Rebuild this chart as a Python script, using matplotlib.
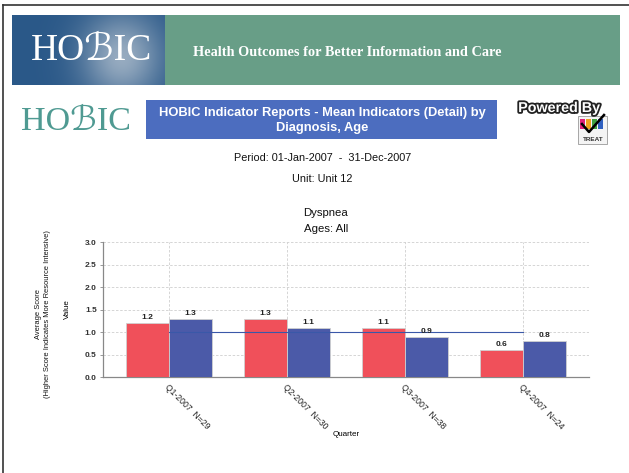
import numpy as np
import matplotlib
matplotlib.use("Agg")
import matplotlib.pyplot as plt
from matplotlib.patches import Rectangle
import matplotlib.patheffects as pe

# ---- data ----
quarters = ["Q1-2007", "Q2-2007", "Q3-2007", "Q4-2007"]
counts = [29, 30, 38, 24]
series_red = [1.2, 1.3, 1.1, 0.6]
series_blue = [1.3, 1.1, 0.9, 0.8]
reference_level = 1.0
y_ticks = [0.0, 0.5, 1.0, 1.5, 2.0, 2.5, 3.0]

RED = "#f0505a"
BLUE = "#4b5aa8"
W, H = 629, 473

fig = plt.figure(figsize=(W / 100, H / 100), dpi=100)
fig.patch.set_facecolor("white")

# page-level decoration layer in pixel coordinates
deco = fig.add_axes([0, 0, 1, 1], zorder=0)
deco.set_xlim(0, W)
deco.set_ylim(H, 0)
deco.axis("off")

# page frame (top and left edges)
deco.plot([3, W], [5, 5], color="#333333", lw=1.2)
deco.plot([3, 3], [5, H], color="#333333", lw=1.2)

# banner: gradient logo block + green strip
gx = np.linspace(0, 1, 160)
gy = np.linspace(0, 1, 70)
GX, GY = np.meshgrid(gx, gy)
t = np.clip(np.exp(-((GX - 0.72) ** 2) / 0.07 - ((GY - 0.6) ** 2) / 0.4) * 0.85, 0, 1)
c0 = np.array([0x2a, 0x58, 0x88]) / 255
c1 = np.array([0xaa, 0xba, 0xca]) / 255
grad = c0[None, None, :] * (1 - t[..., None]) + c1[None, None, :] * t[..., None]
deco.imshow(grad, extent=(12, 165, 85, 15), aspect="auto", zorder=1)
deco.add_patch(Rectangle((165, 15), 455, 70, facecolor="#689e87", edgecolor="none", zorder=1))
deco.text(92, 51, "HO\u212CIC", color="white", fontsize=27, ha="center", va="center",
          family=["Liberation Serif", "DejaVu Serif", "DejaVu Sans"], zorder=2)
deco.text(193, 52, "Health Outcomes for Better Information and Care", color="white",
          fontsize=10.3, fontweight="bold", ha="left", va="center",
          family=["Liberation Serif", "DejaVu Serif"], zorder=2)

# second row: logo, title box, powered-by badge
deco.text(76, 122, "HO\u212CIC", color="#4f9a92", fontsize=24.5, ha="center", va="center",
          family=["Liberation Serif", "DejaVu Serif", "DejaVu Sans"], zorder=2)
deco.add_patch(Rectangle((146, 100), 351, 39, facecolor="#4c6dbf", edgecolor="none", zorder=1))
deco.text(322, 120.5, "HOBIC Indicator Reports - Mean Indicators (Detail) by\nDiagnosis, Age",
          color="white", fontsize=9.3, fontweight="bold", ha="center", va="center",
          linespacing=1.35, family="Liberation Sans", zorder=2)
deco.text(559, 108, "Powered By", color="white", fontsize=10.3, fontweight="bold",
          ha="center", va="center", family="Liberation Sans", zorder=3,
          path_effects=[pe.withStroke(linewidth=2.6, foreground="#222222")])
deco.add_patch(Rectangle((578, 116), 29, 28, facecolor="#f4f4f4", edgecolor="#999999",
                         lw=0.6, zorder=2))
for i, c in enumerate(["#e0207a", "#f0a020", "#40a040", "#3060c0"]):
    deco.add_patch(Rectangle((580 + i * 6, 119), 5, 10, facecolor=c, edgecolor="none", zorder=2))
deco.plot([582, 589, 604], [124, 132, 115], color="black", lw=1.8, zorder=3)
deco.text(593, 139, "TREAT", color="#333333", fontsize=4.6, fontweight="bold",
          ha="center", va="center", family="Liberation Sans", zorder=3)

deco.text(323, 158, "Period: 01-Jan-2007  -  31-Dec-2007", fontsize=7.8, ha="center",
          va="center", family="Liberation Sans", color="#111111")
deco.text(322, 179, "Unit: Unit 12", fontsize=7.8, ha="center", va="center",
          family="Liberation Sans", color="#111111")
deco.text(326, 213, "Dyspnea", fontsize=8.2, ha="center", va="center",
          family="Liberation Sans", color="#111111")
deco.text(326, 228.5, "Ages: All", fontsize=8.2, ha="center", va="center",
          family="Liberation Sans", color="#111111")
deco.text(43, 314, "Average Score\n(Higher Score Indicates More Resource Intensive)",
          fontsize=5.4, ha="center", va="center", rotation=90, linespacing=1.3,
          family="Liberation Sans", color="#111111")

# ---- chart ----
ax = fig.add_axes([103 / W, 1 - 377 / H, 486 / W, 135 / H], zorder=1)
ax.set_facecolor("none")
x = np.arange(len(quarters))
bw = 0.365
rb = ax.bar(x - bw / 2, series_red, bw, color=RED, edgecolor="#d0d0d0", lw=0.6, zorder=3)
bb = ax.bar(x + bw / 2, series_blue, bw, color=BLUE, edgecolor="#d0d0d0", lw=0.6, zorder=3)
for bars, vals in ((rb, series_red), (bb, series_blue)):
    for b, v in zip(bars, vals):
        ax.text(b.get_x() + b.get_width() / 2, v + 0.04, f"{v:.1f}", ha="center",
                va="bottom", fontsize=6, color="#222222", family="Liberation Sans",
                fontweight="bold", zorder=5)
ax.plot([x[0], x[-1]], [reference_level] * 2, color="#3a58a8", lw=0.8, zorder=4)

ax.set_xlim(-0.56, 3.56)
ax.set_ylim(0, 3.0)
ax.set_yticks(y_ticks)
ax.set_yticklabels([f"{v:.1f}" for v in y_ticks], fontsize=6, family="Liberation Sans",
                   fontweight="bold", color="#333333")
ax.set_xticks(x)
ax.set_xticklabels([f"{q}  N={n}" for q, n in zip(quarters, counts)], rotation=-45,
                   ha="left", va="top", rotation_mode="anchor", fontsize=6.2,
                   family="Liberation Sans", color="#222222")
ax.tick_params(axis="x", length=0, pad=4)
ax.tick_params(axis="y", length=2.5, width=0.6, color="#888888", pad=2)
ax.grid(True, ls=(0, (3, 2)), color="#cfcfcf", lw=0.6, zorder=0)
for s in ("top", "right"):
    ax.spines[s].set_visible(False)
for s in ("left", "bottom"):
    ax.spines[s].set_color("#888888")
    ax.spines[s].set_linewidth(0.9)
ax.set_ylabel("Value", fontsize=5.8, family="Liberation Sans", labelpad=10)
ax.set_xlabel("Quarter", fontsize=5.8, family="Liberation Sans", labelpad=0)

fig.savefig("out.png", dpi=100)
